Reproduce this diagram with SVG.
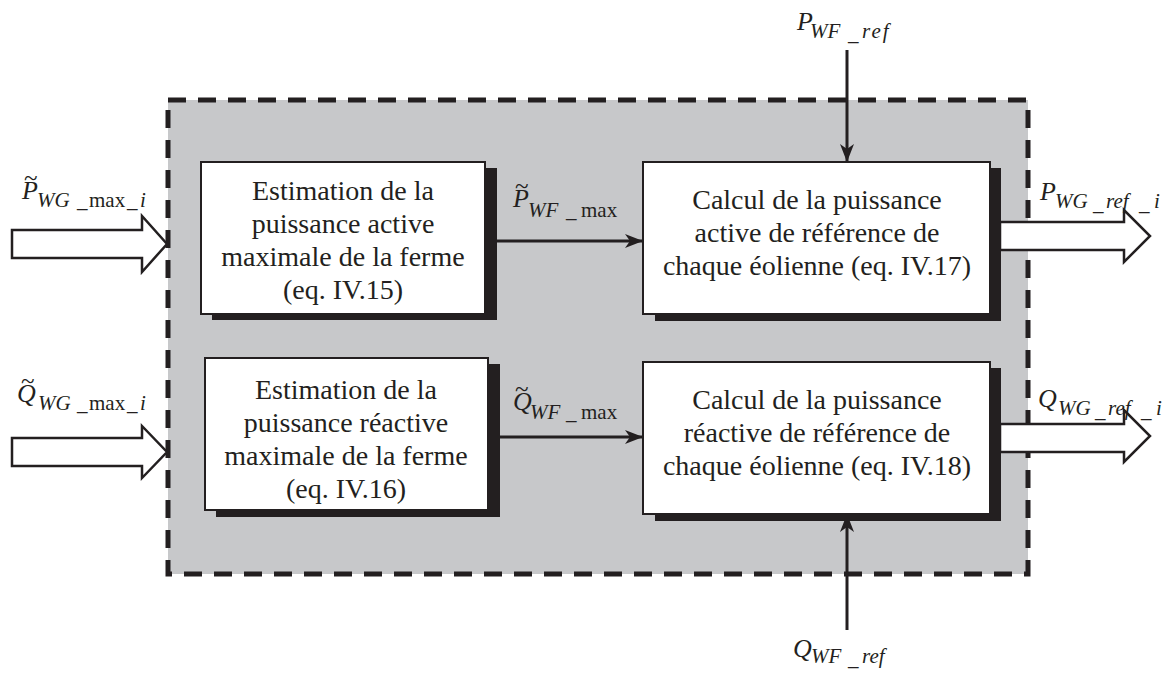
<svg xmlns="http://www.w3.org/2000/svg" width="1175" height="675" viewBox="0 0 1175 675">
<style>
.bt{font-family:"Liberation Serif","Times New Roman",serif;font-size:28px;fill:#231F20;text-anchor:middle}
.m{font-family:"Liberation Serif","Times New Roman",serif;fill:#231F20}
.big{font-size:26px;font-style:italic}
.sub{font-size:21px}
.it{font-style:italic}
.tl{font-size:25px}
.box{fill:#FFFFFF;stroke:#231F20;stroke-width:2}
.sh{fill:#231F20}
.ln{stroke:#231F20;stroke-width:3;fill:none}
.hol{fill:#FFFFFF;stroke:#231F20;stroke-width:2.5;stroke-linejoin:miter}
</style>
<defs>
<marker id="ah" markerWidth="18" markerHeight="14" refX="17" refY="7" orient="auto" markerUnits="userSpaceOnUse">
<path d="M0,0 L18,7 L0,14 L5,7 z" fill="#231F20"/>
</marker>
</defs>
<rect width="1175" height="675" fill="#FFFFFF"/>
<g id="frame">
<rect x="168" y="100" width="860" height="474" fill="#C7C8CA"/>
<rect x="168" y="100" width="860" height="474" fill="none" stroke="#231F20" stroke-width="5" stroke-dasharray="18 12"/>
</g>
<g id="connectors">
<line class="ln" x1="497" y1="241" x2="642" y2="241" marker-end="url(#ah)"/>
<line class="ln" x1="500" y1="437" x2="642" y2="437" marker-end="url(#ah)"/>
<line class="ln" x1="847" y1="50" x2="847" y2="161" marker-end="url(#ah)"/>
<line class="ln" x1="847" y1="630" x2="847" y2="515" marker-end="url(#ah)"/>
<path class="hol" d="M12,230 L142,230 L142,216 L167,244 L142,272 L142,258 L12,258 Z"/>
<path class="hol" d="M12,438 L142,438 L142,426 L167,452 L142,478 L142,466 L12,466 Z"/>
<path class="hol" d="M1000,222 L1124,222 L1124,210 L1150,236 L1124,262 L1124,250 L1000,250 Z"/>
<path class="hol" d="M1000,424 L1124,424 L1124,410 L1150,436 L1124,462 L1124,452 L1000,452 Z"/>
</g>
<g id="box1">
<rect class="sh" x="212" y="168" width="285" height="152"/>
<rect class="box" x="201" y="162" width="284" height="152"/>
<text class="bt" x="343" y="200">Estimation de la</text>
<text class="bt" x="343" y="233">puissance active</text>
<text class="bt" x="343" y="266">maximale de la ferme</text>
<text class="bt" x="343" y="299">(eq. IV.15)</text>
</g>
<g id="box2">
<rect class="sh" x="655" y="168" width="346" height="153"/>
<rect class="box" x="643" y="162" width="347" height="152"/>
<text class="bt" x="817" y="209">Calcul de la puissance</text>
<text class="bt" x="817" y="242">active de référence de</text>
<text class="bt" x="817" y="275">chaque éolienne (eq. IV.17)</text>
</g>
<g id="box3">
<rect class="sh" x="216" y="364" width="284" height="153"/>
<rect class="box" x="205" y="358" width="283" height="152"/>
<text class="bt" x="346" y="399">Estimation de la</text>
<text class="bt" x="346" y="432">puissance réactive</text>
<text class="bt" x="346" y="465">maximale de la ferme</text>
<text class="bt" x="346" y="498">(eq. IV.16)</text>
</g>
<g id="box4">
<rect class="sh" x="655" y="368" width="346" height="153"/>
<rect class="box" x="643" y="362" width="347" height="152"/>
<text class="bt" x="817" y="409">Calcul de la puissance</text>
<text class="bt" x="817" y="442">réactive de référence de</text>
<text class="bt" x="817" y="475">chaque éolienne (eq. IV.18)</text>
</g>
<g id="labels">
<text class="m"><tspan class="tl" x="24" y="186">~</tspan><tspan class="big" x="22" y="199">P</tspan><tspan class="sub it" x="37" y="207">WG</tspan><tspan class="sub" x="77" y="207">_</tspan><tspan class="sub" x="89" y="207">max</tspan><tspan class="sub" x="127" y="207">_</tspan><tspan class="sub it" x="140" y="207">i</tspan></text>
<text class="m"><tspan class="tl" x="21" y="389">~</tspan><tspan class="big" x="17" y="402">Q</tspan><tspan class="sub it" x="38" y="410">WG</tspan><tspan class="sub" x="77" y="410">_</tspan><tspan class="sub" x="89" y="410">max</tspan><tspan class="sub" x="127" y="410">_</tspan><tspan class="sub it" x="140" y="410">i</tspan></text>
<text class="m"><tspan class="tl" x="515" y="194">~</tspan><tspan class="big" x="513" y="207">P</tspan><tspan class="sub it" x="528" y="217">WF</tspan><tspan class="sub" x="566" y="217">_</tspan><tspan class="sub" x="581" y="217">max</tspan></text>
<text class="m"><tspan class="tl" x="515" y="397">~</tspan><tspan class="big" x="513" y="410">Q</tspan><tspan class="sub it" x="530" y="419">WF</tspan><tspan class="sub" x="566" y="419">_</tspan><tspan class="sub" x="581" y="419">max</tspan></text>
<text class="m"><tspan class="big" x="797" y="30">P</tspan><tspan class="sub it" x="810" y="38">WF</tspan><tspan class="sub" x="848" y="40">_</tspan><tspan class="sub it" x="862" y="38" letter-spacing="2">ref</tspan></text>
<text class="m"><tspan class="big" x="793" y="657">Q</tspan><tspan class="sub it" x="811" y="663">WF</tspan><tspan class="sub" x="848" y="665">_</tspan><tspan class="sub it" x="862" y="663">ref</tspan></text>
<text class="m"><tspan class="big" x="1040" y="200">P</tspan><tspan class="sub it" x="1055" y="208">WG</tspan><tspan class="sub" x="1093" y="210">_</tspan><tspan class="sub it" x="1106" y="208">ref</tspan><tspan class="sub" x="1139" y="210">_</tspan><tspan class="sub it" x="1154" y="208">i</tspan></text>
<text class="m"><tspan class="big" x="1038" y="407">Q</tspan><tspan class="sub it" x="1058" y="415">WG</tspan><tspan class="sub" x="1095" y="417">_</tspan><tspan class="sub it" x="1108" y="415">ref</tspan><tspan class="sub" x="1141" y="417">_</tspan><tspan class="sub it" x="1156" y="415">i</tspan></text>
</g>
</svg>
